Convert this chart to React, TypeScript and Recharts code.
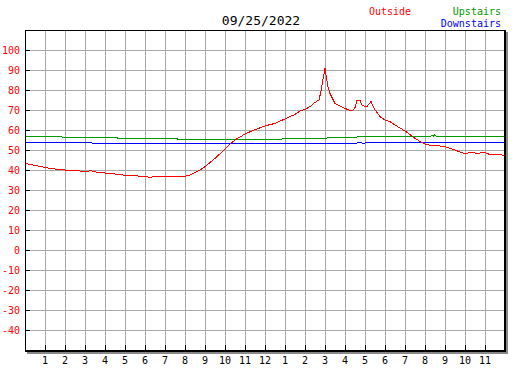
import React from 'react';
import { LineChart, Line, XAxis, YAxis, CartesianGrid } from 'recharts';

// hour of day -> temperature (F)
const outside = [
  [0, 43.3], [0.25, 42.8], [0.5, 42.3], [0.75, 41.8], [1, 41.3], [1.25, 40.8], [1.5, 40.5], [1.75, 40.3],
  [2, 40], [2.25, 39.8], [2.5, 39.7], [2.75, 39.5], [3, 39.3], [3.1, 39], [3.25, 39.7], [3.5, 39.1],
  [3.75, 38.7], [4, 38.5], [4.25, 38.2], [4.5, 38], [4.75, 37.7], [5, 37.3], [5.25, 37.1], [5.5, 37.2],
  [5.75, 36.8], [6, 36.7], [6.25, 36.4], [6.5, 36.7], [6.75, 36.5], [7, 37], [7.25, 36.5], [7.5, 36.9],
  [7.75, 36.7], [8, 36.8], [8.25, 37.5], [8.5, 38.7], [8.75, 40], [9, 41.7], [9.25, 43.7], [9.5, 45.8],
  [9.75, 48.1], [10, 50.5], [10.25, 53], [10.5, 55], [10.75, 56.5], [11, 58], [11.25, 59.1], [11.5, 60.2],
  [11.75, 61.1], [12, 62], [12.25, 62.7], [12.5, 63.3], [12.75, 64.5], [13, 65.5], [13.25, 66.7], [13.5, 67.8],
  [13.75, 69.5], [14, 70.3], [14.25, 71.7], [14.5, 73.8], [14.7, 75], [14.8, 79.5], [14.9, 85.5], [15, 90.8],
  [15.05, 87.5], [15.15, 81.5], [15.25, 78.3], [15.5, 73.3], [15.75, 72], [16, 70.8], [16.25, 69.8], [16.4, 70],
  [16.5, 71.2], [16.6, 75], [16.75, 74.7], [16.85, 72.5], [17, 71.7], [17.1, 71.8], [17.3, 74.2], [17.5, 70],
  [17.75, 66.7], [18, 65], [18.25, 64.2], [18.5, 62.5], [18.75, 61], [19, 59.5], [19.25, 57.7], [19.5, 55.8],
  [19.75, 54.3], [20, 53], [20.25, 52.4], [20.5, 52.2], [20.75, 52], [21, 51.7], [21.25, 50.8], [21.5, 50],
  [21.75, 49], [22, 48.2], [22.25, 48.7], [22.5, 48.5], [22.75, 48.5], [23, 48.7], [23.25, 47.7], [23.5, 47.7],
  [23.75, 47.8], [24, 47],
];

const upstairs = [
  [0, 57], [1.82, 57], [1.85, 56.5], [4.6, 56.5], [4.63, 56], [7.6, 56], [7.63, 55.5], [12.85, 55.5],
  [12.88, 56], [15.1, 56], [15.13, 56.5], [16.6, 56.5], [16.63, 57], [20.3, 57], [20.35, 57.5], [20.42, 57],
  [20.47, 57.5], [20.55, 57], [24, 57],
];

const downstairs = [
  [0, 54], [3.33, 54], [3.36, 53.5], [16.6, 53.5], [16.63, 54], [16.8, 54], [16.85, 53.5], [17.0, 53.5],
  [17.05, 54], [24, 54],
];

const hourTicks = [1, 2, 3, 4, 5, 6, 7, 8, 9, 10, 11, 12, 13, 14, 15, 16, 17, 18, 19, 20, 21, 22, 23];
const tempTicks = [-40, -30, -20, -10, 0, 10, 20, 30, 40, 50, 60, 70, 80, 90, 100];

const toRows = (pts: number[][]) => pts.map(([h, v]) => ({ h, v }));

const mono = '"DejaVu Sans Mono", monospace';

// tick mark drawn inward from the axis, label outside
const HourTick = (props: any) => {
  const { x, y, payload } = props;
  const h = payload.value;
  return (
    <g>
      <line x1={x} x2={x} y1={y} y2={y - 5} stroke="#000" />
      <text x={x} y={y + 14} textAnchor="middle" fontSize={10} fontFamily={mono} fill="#000">
        {String(h > 12 ? h - 12 : h)}
      </text>
    </g>
  );
};

const TempTick = (props: any) => {
  const { x, y, payload } = props;
  return (
    <g>
      <line x1={x} x2={x + 5} y1={y} y2={y} stroke="#000" />
      <text x={x - 5} y={y + 4} textAnchor="end" fontSize={10} fontFamily={mono} fill="#ff0000">
        {payload.value}
      </text>
    </g>
  );
};

export default function App() {
  return (
    <div style={{ position: 'absolute', left: 0, top: 0, width: 527, height: 370, background: '#fff', shapeRendering: 'crispEdges' }}>
      <LineChart width={527} height={370} margin={{ top: 30, right: 22, bottom: 0, left: 0 }}>
        <CartesianGrid stroke="#a8a8a8" />
        <XAxis
          dataKey="h"
          type="number"
          domain={[0, 24]}
          ticks={hourTicks}
          allowDataOverflow
          height={20}
          axisLine={false}
          tickLine={false}
          tickSize={0}
          tickMargin={0}
          tick={<HourTick />}
          interval={0}
        />
        <YAxis
          type="number"
          domain={[-50, 110]}
          ticks={tempTicks}
          allowDataOverflow
          width={25}
          axisLine={false}
          tickLine={false}
          tickSize={0}
          tickMargin={0}
          tick={<TempTick />}
          interval={0}
        />
        <Line data={toRows(upstairs)} dataKey="v" stroke="#009900" strokeWidth={1} dot={false} isAnimationActive={false} />
        <Line data={toRows(downstairs)} dataKey="v" stroke="#0000ff" strokeWidth={1} dot={false} isAnimationActive={false} />
        <Line data={toRows(outside)} dataKey="v" stroke="#ff0000" strokeWidth={1} dot={false} isAnimationActive={false} />
      </LineChart>
      <div
        style={{
          position: 'absolute', left: 25, top: 30, width: 481, height: 322, boxSizing: 'border-box',
          borderLeft: '1px solid #000', borderTop: '1px solid #000', borderRight: '2px solid #000', borderBottom: '2px solid #000',
          boxShadow: '2px 2px 0 #888', pointerEvents: 'none',
        }}
      />
      <svg width={527} height={30} style={{ position: 'absolute', left: 0, top: 0 }}>
        <text x={261} y={25} textAnchor="middle" fontSize={13} fontFamily={mono} fill="#000">09/25/2022</text>
        <text x={369} y={15} fontSize={10} fontFamily={mono} fill="#ff0000">Outside</text>
        <text x={501} y={15} textAnchor="end" fontSize={10} fontFamily={mono} fill="#009900">Upstairs</text>
        <text x={501} y={27} textAnchor="end" fontSize={10} fontFamily={mono} fill="#0000ff">Downstairs</text>
      </svg>
    </div>
  );
}
